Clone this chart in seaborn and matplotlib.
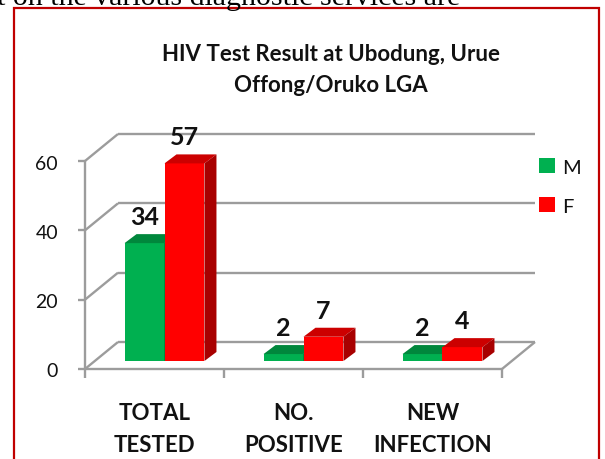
import pandas as pd
import seaborn as sns
import matplotlib.pyplot as plt
from matplotlib.patches import Polygon, Rectangle
from matplotlib import transforms

# chart data
CATEGORIES = ['TOTAL\nTESTED', 'NO.\nPOSITIVE', 'NEW\nINFECTION']
SEXES = ['M', 'F']
MALE = [34, 2, 2]
FEMALE = [57, 7, 4]
YTICKS = [0, 20, 40, 60]

TITLE = 'HIV Test Result at Ubodung, Urue\nOffong/Oruko LGA'
PAGE_TEXT = 't on the various diagnostic services are'

FRONT_COLORS = ['#00B050', '#FF0000']
TOP_COLORS = ['#00873C', '#CC0000']
SIDE_COLORS = ['#006B2F', '#A80000']
GRID = '#9C9C9C'
TEXT = '#111111'

W, H = 605, 460
sns.set_style('white')
plt.rcParams['font.family'] = ['Lato', 'DejaVu Sans']

fig = plt.figure(figsize=(W / 100, H / 100), dpi=100)
# axes = the plane the bar fronts sit in
ax = fig.add_axes([95 / W, 98 / H, 417 / W, 208 / H])
ax.set_xlim(-0.5, 2.5)
ax.set_ylim(0, 60)
ax.set_axis_off()

# pixel -> data unit helpers
PX = 3 / 417
PY = 60 / 208


def off(px, py):
    return px * PX, py * PY


FRONT = off(-10, -8)
BACK = off(23, 19)
DEPTH = off(12, 9)

df = pd.DataFrame({
    'Category': CATEGORIES * 2,
    'Sex': [SEXES[0]] * 3 + [SEXES[1]] * 3,
    'Count': MALE + FEMALE,
})

sns.barplot(data=df, x='Category', y='Count', hue='Sex', hue_order=SEXES,
            palette=FRONT_COLORS, saturation=1, width=0.575, linewidth=0,
            ax=ax, legend=False)
ax.set_xlim(-0.5, 2.5)
ax.set_ylim(0, 60)

# walls / gridlines
line_kw = dict(color=GRID, lw=1.7, clip_on=False, zorder=1, solid_capstyle='butt')
xl_f, xr_f = -0.5 + FRONT[0], 2.5 + FRONT[0]
xl_b, xr_b = -0.5 + BACK[0], 2.5 + BACK[0]
for yv in YTICKS:
    ax.plot([xl_b, xr_b], [yv + BACK[1], yv + BACK[1]], **line_kw)
    ax.plot([xl_f, xl_b], [yv + FRONT[1], yv + BACK[1]], **line_kw)
    ax.plot([xl_f - 7 * PX, xl_f], [yv + FRONT[1]] * 2, **line_kw)
    ax.text(xl_f - 27 * PX, yv + FRONT[1] - 2 * PY, str(yv), ha='right', va='center',
            fontsize=14, color=TEXT)
ax.plot([xl_f, xl_f], [FRONT[1], YTICKS[-1] + FRONT[1]], **line_kw)
ax.plot([xl_f, xr_f], [FRONT[1], FRONT[1]], **line_kw)
ax.plot([xr_f, xr_b], [FRONT[1], BACK[1]], **line_kw)
for xb in [-0.5, 0.5, 1.5, 2.5]:
    ax.plot([xb + FRONT[0]] * 2, [FRONT[1], FRONT[1] - 9 * PY], **line_kw)

# 3d faces and value labels
dx, dy = DEPTH
for i, cont in enumerate(ax.containers):
    for bar in cont:
        bar.set_zorder(2 + i)
        x0 = bar.get_x()
        x1 = x0 + bar.get_width()
        h = bar.get_height()
        top = Polygon([(x0, h), (x1, h), (x1 + dx, h + dy), (x0 + dx, h + dy)],
                      closed=True, fc=TOP_COLORS[i], ec='none', zorder=2 + i, clip_on=False)
        side = Polygon([(x1, 0), (x1 + dx, dy), (x1 + dx, h + dy), (x1, h)],
                       closed=True, fc=SIDE_COLORS[i], ec='none', zorder=2 + i, clip_on=False)
        ax.add_patch(top)
        ax.add_patch(side)
        ax.text((x0 + x1) / 2, h + dy + 10 * PY, f'{h:.0f}', ha='center', va='baseline',
                fontsize=18, fontweight='bold', color=TEXT, zorder=6, clip_on=False)

# category labels, two lines each
blend = transforms.blended_transform_factory(ax.transData, fig.transFigure)
for k, cat in enumerate(CATEGORIES):
    for j, part in enumerate(cat.split('\n')):
        ax.text(k + FRONT[0], 1 - (420 + 32 * j) / H, part, transform=blend,
                ha='center', va='baseline', fontsize=16, fontweight='bold', color=TEXT)

# legend
handles = [Rectangle((0, 0), 1, 1, fc=c, ec='none') for c in FRONT_COLORS]
ax.legend(handles, SEXES, loc='upper left', bbox_to_anchor=(539 / W, 1 - 159 / H),
          bbox_transform=fig.transFigure, frameon=False, fontsize=14.5,
          handlelength=0.8, handleheight=0.8, handletextpad=0.35,
          labelspacing=1.05, borderpad=0, borderaxespad=0, labelcolor=TEXT)

# title
for j, line in enumerate(TITLE.split('\n')):
    fig.text(331 / W, 1 - (61 + 31 * j) / H, line, ha='center', va='baseline',
             fontsize=16, fontweight='bold', color=TEXT)

# cropped page text and the red frame
fig.text(-3 / W, 1 - 5 / H, PAGE_TEXT, ha='left', va='baseline', fontsize=21.5,
         family='Liberation Serif', color='black')
fig.add_artist(Rectangle((14 / W, -0.1), 585 / W, 0.1 + 1 - 9 / H, transform=fig.transFigure,
                         fill=False, ec='#C00000', lw=1.6))

fig.savefig('out.png', dpi=100, facecolor='white')
